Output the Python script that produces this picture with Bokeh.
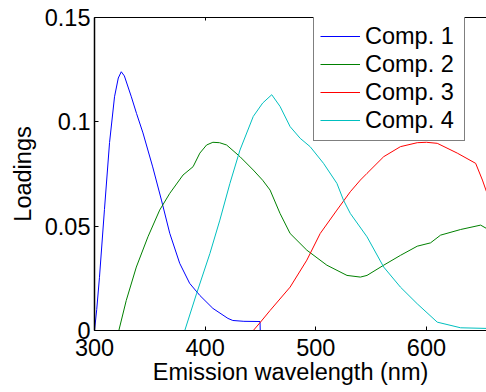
from bokeh.plotting import figure
from bokeh.models import LinearAxis, FixedTicker, Range1d
from bokeh.embed import file_html
from bokeh.resources import INLINE

# ---- data ----
x_ticks = [300, 400, 500, 600]
x_tick_labels = ["300", "400", "500", "600"]
y_ticks = [0, 0.05, 0.1, 0.15]
y_tick_labels = ["0", "0.05", "0.1", "0.15"]

series_names = ["Comp. 1", "Comp. 2", "Comp. 3", "Comp. 4"]
series_colors = ["#0000FF", "#008000", "#FF0000", "#00BFBF"]

comp1_x = [300, 302, 304.5, 309, 313.6, 318.1, 321.5, 324.2, 327, 333.3, 338, 343.8, 352.6,
           360.5, 368, 377, 386, 395.2, 407, 420.6, 425, 435, 449.6, 449.8, 500, 560, 654.3]
comp1_y = [0, 0.010, 0.0255, 0.058, 0.0901, 0.112, 0.121, 0.124, 0.122, 0.112, 0.104, 0.0947,
           0.0784, 0.0625, 0.0466, 0.0322, 0.0226, 0.0168, 0.0106, 0.0058, 0.0048, 0.0044,
           0.0043, 0, 0, 0, 0]

comp2_x = [300, 322, 328.7, 337.8, 348.3, 358.9, 368, 380, 389.1, 395.2, 401.3, 407, 413,
           419.4, 431.5, 443.5, 452, 458.7, 467.7, 476.8, 491.9, 510, 528.2, 540.3, 546.3,
           561.4, 576.5, 591.7, 603.7, 612.8, 630.9, 649, 654.3]
comp2_y = [0, 0, 0.0144, 0.0304, 0.0449, 0.0577, 0.0657, 0.0745, 0.0785, 0.085, 0.0889,
           0.0902, 0.0900, 0.0889, 0.0833, 0.0769, 0.072, 0.0673, 0.0561, 0.0465, 0.0385,
           0.0313, 0.0264, 0.0256, 0.0264, 0.0313, 0.036, 0.0404, 0.042, 0.0457, 0.0484,
           0.0505, 0.0489]

comp3_x = [300, 443.5, 450, 458.7, 476.8, 491.9, 504, 519.1, 531.2, 540.3, 546.3, 561.4,
           576.5, 591.7, 600, 609.8, 627.9, 644.5, 650.6, 654.3]
comp3_y = [0, 0, 0.004, 0.0096, 0.0208, 0.0337, 0.0465, 0.0577, 0.0665, 0.0721, 0.0753,
           0.0833, 0.0881, 0.090, 0.0902, 0.0897, 0.085, 0.0801, 0.0721, 0.0665]

comp4_x = [300, 381.6, 392.2, 404.3, 413.3, 422.4, 431.5, 443.5, 452, 460.2, 467.7, 476.8,
           485.9, 494.9, 507, 519.1, 525, 531.2, 546.3, 561.4, 576.5, 591.7, 609.8, 630.9,
           654.3]
comp4_y = [0, 0, 0.0176, 0.0369, 0.0529, 0.0705, 0.0865, 0.1026, 0.109, 0.113, 0.1074,
           0.0977, 0.0921, 0.0881, 0.0801, 0.0705, 0.0625, 0.0561, 0.0449, 0.0304, 0.0208,
           0.0128, 0.004, 0.0013, 0.001]

FONT = "Liberation Sans"
FS = "23.5px"

p = figure(width=486, height=392, x_range=Range1d(300, 654.3), y_range=Range1d(0, 0.15),
           output_backend="svg", toolbar_location=None,
           min_border_left=94, min_border_right=0, min_border_top=17, min_border_bottom=62,
           background_fill_color="white", border_fill_color="white")
p.outline_line_color = None
p.xgrid.visible = False
p.ygrid.visible = False

xs = [comp1_x, comp2_x, comp3_x, comp4_x]
ys = [comp1_y, comp2_y, comp3_y, comp4_y]
for x, y, c, n in zip(xs, ys, series_colors, series_names):
    p.line(x, y, line_color=c, line_width=1, legend_label=n)

def style_axis(ax, ticks, labels):
    ax.ticker = FixedTicker(ticks=ticks)
    ax.major_label_overrides = {t: l for t, l in zip(ticks, labels)}
    ax.minor_tick_line_color = None
    ax.major_tick_in = 4
    ax.major_tick_out = 0
    ax.axis_line_color = "black"
    ax.major_tick_line_color = "black"
    ax.major_label_text_font = FONT
    ax.major_label_text_font_size = FS
    ax.major_label_text_color = "black"
    ax.axis_label_text_font = FONT
    ax.axis_label_text_font_size = FS
    ax.axis_label_text_font_style = "normal"
    ax.axis_label_text_color = "black"

style_axis(p.xaxis[0], x_ticks, x_tick_labels)
style_axis(p.yaxis[0], y_ticks, y_tick_labels)
p.xaxis[0].axis_label = "Emission wavelength (nm)"
p.yaxis[0].axis_label = "Loadings"
p.xaxis[0].major_label_standoff = 8
p.xaxis[0].axis_label_standoff = 0
p.yaxis[0].major_label_standoff = 4
p.yaxis[0].axis_label_standoff = 6
p.yaxis[0].axis_line_width = 1.5

top = LinearAxis(ticker=FixedTicker(ticks=x_ticks))
top.major_label_overrides = {t: "" for t in x_ticks}
top.major_label_text_font_size = "1px"
top.major_label_text_color = None
top.major_label_standoff = 0
top.minor_tick_line_color = None
top.major_tick_in = 3
top.major_tick_out = 0
top.axis_line_color = "black"
p.add_layout(top, "above")

leg = p.legend[0]
leg.location = (219, 189)
leg.margin = 0
leg.padding = 6
leg.spacing = 0
leg.glyph_width = 40
leg.glyph_height = 28
leg.label_standoff = 5
leg.label_width = 93
leg.label_text_font = FONT
leg.label_text_font_size = FS
leg.label_text_color = "black"
leg.border_line_color = "black"
leg.border_line_width = 1
leg.background_fill_color = "white"
leg.background_fill_alpha = 1

open("out.html", "w").write(file_html(p, INLINE))
